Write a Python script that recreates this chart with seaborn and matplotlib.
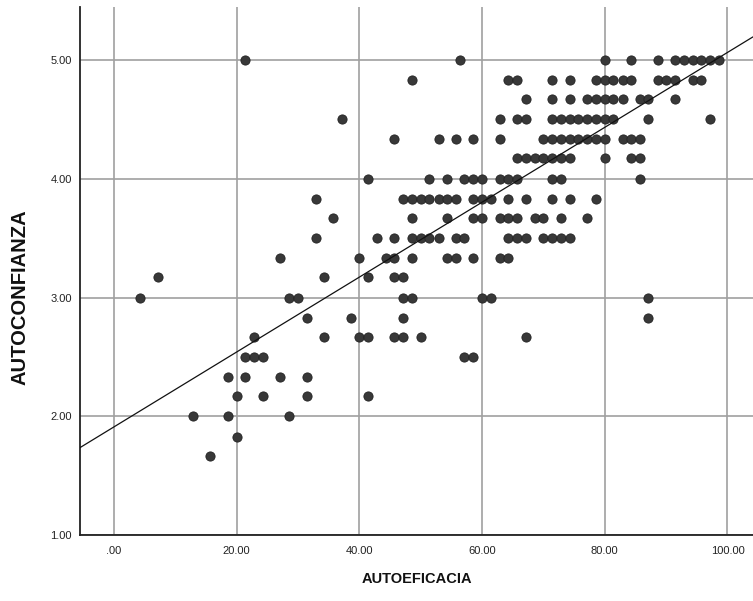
import numpy as np
import pandas as pd
import matplotlib
matplotlib.use("Agg")
import matplotlib.pyplot as plt
import seaborn as sns

# AUTOEFICACIA values per AUTOCONFIANZA level
row_500 = [21.4, 56.4, 80.0, 84.3, 88.6, 91.4, 92.9, 94.3, 95.7, 97.1, 98.6]
row_483 = [48.6, 64.3, 65.7, 71.4, 74.3, 78.6, 80.0, 81.4, 82.9, 84.3, 88.6, 90.0, 91.4, 94.3, 95.7]
row_467 = [67.1, 71.4, 74.3, 77.1, 78.6, 80.0, 81.4, 82.9, 85.7, 87.1, 91.4]
row_450 = [37.1, 62.9, 65.7, 67.1, 71.4, 72.9, 74.3, 75.7, 77.1, 78.6, 80.0, 81.4, 87.1, 97.1]
row_433 = [45.7, 52.9, 55.7, 58.6, 62.9, 70.0, 71.4, 72.9, 74.3, 75.7, 77.1, 78.6, 80.0, 82.9, 84.3, 85.7]
row_417 = [65.7, 67.1, 68.6, 70.0, 71.4, 72.9, 74.3, 80.0, 84.3, 85.7]
row_400 = [41.4, 51.4, 54.3, 57.1, 58.6, 60.0, 62.9, 64.3, 65.7, 71.4, 72.9, 85.7]
row_383 = [32.9, 47.1, 48.6, 50.0, 51.4, 52.9, 54.3, 55.7, 58.6, 60.0, 61.4, 64.3, 67.1, 71.4, 74.3, 78.6]
row_367 = [35.7, 48.6, 54.3, 58.6, 60.0, 62.9, 64.3, 65.7, 68.6, 70.0, 72.9, 77.1]
row_350 = [32.9, 42.9, 45.7, 48.6, 50.0, 51.4, 52.9, 55.7, 57.1, 64.3, 65.7, 67.1, 70.0, 71.4, 72.9, 74.3]
row_333 = [27.1, 40.0, 44.3, 45.7, 48.6, 54.3, 55.7, 58.6, 62.9, 64.3]
row_317 = [7.1, 34.3, 41.4, 45.7, 47.1]
row_300 = [4.3, 28.6, 30.0, 47.1, 48.6, 60.0, 61.4, 87.1]
row_283 = [31.4, 38.6, 47.1, 87.1]
row_267 = [22.9, 34.3, 40.0, 41.4, 45.7, 47.1, 50.0, 67.1]
row_250 = [21.4, 22.9, 24.3, 57.1, 58.6]
row_233 = [18.6, 21.4, 27.1, 31.4]
row_217 = [20.0, 24.3, 31.4, 41.4]
row_200 = [12.9, 18.6, 28.6]
row_183 = [20.0]
row_167 = [15.7]

levels = [5.00, 4.83, 4.67, 4.50, 4.33, 4.17, 4.00, 3.83, 3.67, 3.50, 3.33,
          3.17, 3.00, 2.83, 2.67, 2.50, 2.33, 2.17, 2.00, 1.83, 1.67]
rows = [row_500, row_483, row_467, row_450, row_433, row_417, row_400, row_383,
        row_367, row_350, row_333, row_317, row_300, row_283, row_267, row_250,
        row_233, row_217, row_200, row_183, row_167]

# fit line as shown in the chart (the full sample has hidden overlapping points)
fit_intercept = 1.912
fit_slope = 0.0315

x_ticks = [0, 20, 40, 60, 80, 100]
y_ticks = [1, 2, 3, 4, 5]

df = pd.DataFrame({
    "AUTOEFICACIA": [x for r in rows for x in r],
    "AUTOCONFIANZA": [lv for lv, r in zip(levels, rows) for _ in r],
})

sns.set_style("white")
plt.rcParams["font.family"] = ["Liberation Sans", "DejaVu Sans"]

fig = plt.figure(figsize=(7.53, 6.01), dpi=100)
ax = fig.add_axes([0.1062, 0.1093, 0.8938, 0.879])

ax.grid(True, color="#a0a0a0", linewidth=1.2)
ax.set_axisbelow(True)

sns.scatterplot(data=df, x="AUTOEFICACIA", y="AUTOCONFIANZA", ax=ax,
                s=44, color="#383838", edgecolor="#222222", linewidth=0.6,
                zorder=3)
ax.axline((0, fit_intercept), slope=fit_slope, color="#111111",
          linewidth=0.9, zorder=4)

ax.set_xlim(-5.54, 104.16)
ax.set_ylim(1.0, 5.444)
ax.set_xticks(x_ticks)
ax.set_yticks(y_ticks)
ax.set_xticklabels([".00" if v == 0 else f"{v:.2f}" for v in x_ticks])
ax.set_yticklabels([f"{v:.2f}" for v in y_ticks])
ax.tick_params(length=0, labelsize=8, colors="#222222")
ax.tick_params(axis="x", pad=8)
ax.tick_params(axis="y", pad=6)

for side in ["top", "right"]:
    ax.spines[side].set_visible(False)
for side in ["left", "bottom"]:
    ax.spines[side].set_color("#222222")
    ax.spines[side].set_linewidth(1.3)

ax.set_xlabel("AUTOEFICACIA", fontsize=10.5, fontweight="bold", color="#111111")
ax.set_ylabel("AUTOCONFIANZA", fontsize=14.5, fontweight="bold", color="#111111")
ax.xaxis.set_label_coords(0.5, -0.07)
ax.yaxis.set_label_coords(-0.089, 0.451)
ax.yaxis.label.set_va("center")
ax.xaxis.label.set_va("top")

fig.savefig("out.png", dpi=100)
